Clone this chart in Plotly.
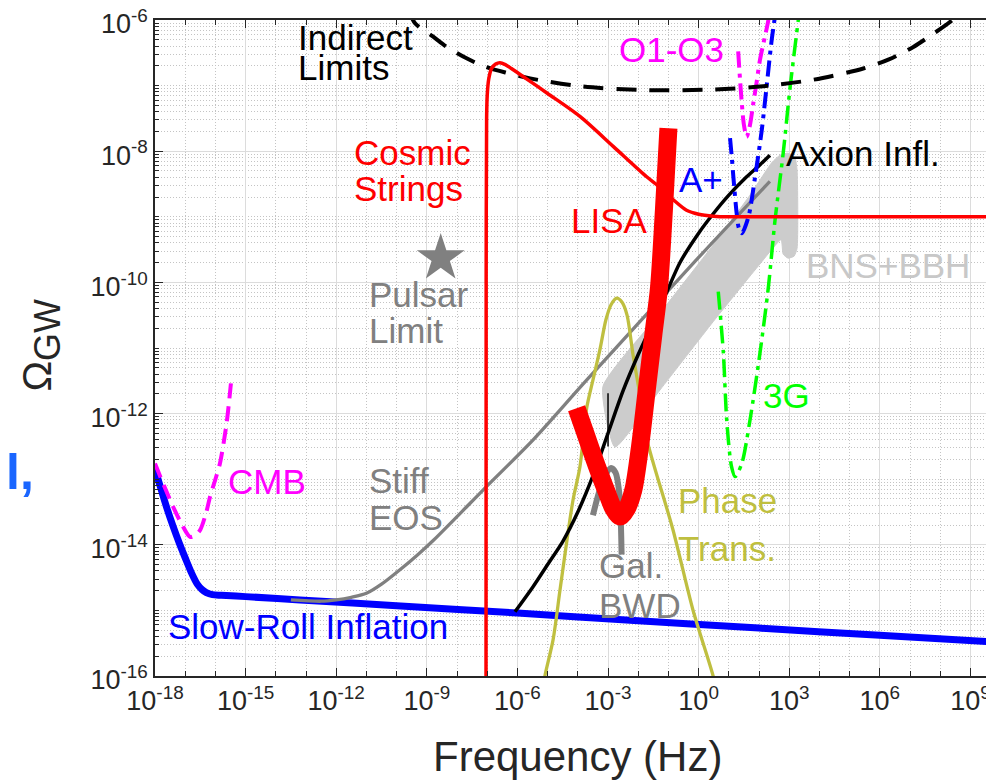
import numpy as np
import plotly.graph_objects as go

# ---- values (log10 of frequency in Hz, log10 of Omega_GW) ----
slow_roll_f = [-18.0, -17.8, -17.6, -17.4, -17.2, -17.0, -16.8, -16.6, -16.45, -16.3, -16.1, -15.8,
               -15.0, -13.2, -10.0, -6.0, -2.27, 2.0, 6.0, 9.8]
slow_roll_o = [-12.85, -13.15, -13.45, -13.72, -13.97, -14.2, -14.42, -14.6, -14.68, -14.73, -14.76, -14.77,
               -14.79, -14.84, -14.93, -15.04, -15.15, -15.27, -15.38, -15.48]

cmb_f = [-18.0, -17.7, -17.4, -17.1, -16.84, -16.65, -16.5, -16.3, -16.18, -16.0, -15.85, -15.63, -15.48]
cmb_o = [-12.76, -13.1, -13.42, -13.7, -13.88, -13.85, -13.77, -13.5, -13.27, -13.0, -12.76, -12.15, -11.51]

stiff_f = [-13.5, -12.5, -12.0, -11.5, -11.0, -10.5, -9.89, -9.3, -8.78, -7.68, -7.02, -5.48, -3.71, 0.0, 2.36]
stiff_o = [-14.84, -14.86, -14.84, -14.8, -14.74, -14.6, -14.38, -14.15, -13.93, -13.42, -13.11, -12.4,
           -11.49, -9.62, -8.46]

cosmic_f = [-7.04, -7.035, -7.02, -7.0, -6.95, -6.86, -6.72, -6.58, -6.4, -6.2, -5.91, -5.0, -3.93,
            -2.82, -1.72, -1.28, -0.84, -0.4, 0.0, 0.5, 1.0, 10.0]
cosmic_o = [-16.5, -10.0, -7.5, -7.15, -6.9, -6.74, -6.67, -6.65, -6.68, -6.74, -6.83, -7.12, -7.47,
            -7.93, -8.39, -8.55, -8.74, -8.9, -8.96, -8.99, -9.0, -9.0]

indirect_f = [-9.6, -9.39, -8.8, -8.34, -7.7, -7.13, -6.4, -5.58, -3.93, -1.72, 0.49, 2.14, 3.8, 5.45,
              6.3, 7.11, 7.8, 8.32, 8.5]
indirect_o = [-5.85, -6.05, -6.25, -6.41, -6.58, -6.7, -6.8, -6.89, -7.01, -7.07, -7.06, -7.01, -6.91,
              -6.74, -6.6, -6.41, -6.2, -6.03, -5.95]

o1o3_f = [1.31, 1.37, 1.43, 1.5, 1.59, 1.7, 1.81, 1.92, 2.03, 2.31, 2.35]
o1o3_o = [-6.48, -6.9, -7.27, -7.6, -7.78, -7.6, -7.27, -6.95, -6.61, -6.0, -5.85]

aplus_f = [1.04, 1.1, 1.15, 1.26, 1.33, 1.43, 1.65, 1.87, 2.09, 2.25, 2.42, 2.56]
aplus_o = [-7.8, -8.1, -8.39, -8.95, -9.17, -9.25, -9.0, -8.39, -7.68, -7.02, -6.3, -5.85]

g3_f = [0.65, 0.82, 0.93, 1.09, 1.21, 1.43, 1.7, 2.03, 2.31, 2.53, 2.8, 3.03, 3.3, 3.34]
g3_o = [-10.14, -11.08, -12.1, -12.81, -12.96, -12.76, -12.1, -11.08, -10.07, -9.05, -8.03, -7.02, -6.0, -5.85]

axion_f = [-6.08, -5.5, -5.0, -4.5, -4.0, -3.5, -3.0, -2.5, -2.0, -1.5, -1.06, -0.62, 0.0, 0.49, 1.0,
           1.59, 2.0, 2.36]
axion_o = [-15.02, -14.65, -14.3, -13.95, -13.5, -12.95, -12.3, -11.65, -11.1, -10.6, -10.15, -9.7,
           -9.25, -8.95, -8.67, -8.39, -8.22, -8.06]

lisa_f = [-4.04, -3.75, -3.48, -3.25, -3.04, -2.82, -2.6, -2.38, -2.16, -1.94, -1.72, -1.5, -1.31, -1.15, -1.0]
lisa_o = [-11.92, -12.3, -12.66, -12.95, -13.2, -13.45, -13.57, -13.45, -13.16, -12.5, -11.65, -10.8,
          -10.07, -8.9, -7.65]

phase_f = [-5.15, -5.09, -4.82, -4.59, -4.36, -4.16, -3.93, -3.7, -3.5, -3.27, -3.07, -2.9, -2.71,
           -2.54, -2.37, -2.17, -1.84, -1.71, -0.85, -0.19, 0.48, 0.58]
phase_o = [-16.21, -16.0, -15.45, -14.69, -13.93, -13.32, -12.81, -11.9, -11.49, -11.03, -10.57, -10.34,
           -10.24, -10.3, -10.5, -11.11, -11.99, -12.4, -13.77, -14.99, -16.0, -16.21]

gal_f = [-3.5, -3.3, -3.1, -2.9, -2.75, -2.63, -2.58, -2.55]
gal_o = [-13.55, -13.2, -12.95, -12.83, -12.9, -13.2, -13.6, -14.15]

gal_tick_f = [-3.0, -3.0]
gal_tick_o = [-11.69, -12.5]

bns_f = [-3.17, -1.28, 0.48, 1.70, 2.43, 2.70, 2.96, 3.19, 3.26, 3.26, 3.16, 2.96, 2.80, 2.73, 2.03,
         0.48, -1.28, -2.77, -3.17]
bns_o = [-11.59, -10.47, -9.43, -8.67, -8.17, -8.06, -8.03, -8.10, -8.29, -9.48, -9.60, -9.63, -9.57,
         -9.35, -9.72, -10.60, -11.64, -12.51, -11.59]

pulsar_f = [-8.54]
pulsar_o = [-9.63]

x_tick_exp = list(range(-18, 10, 3))
y_tick_exp = list(range(-16, -5, 2))


def v(a):
    return 10.0 ** np.array(a, dtype=float)


fig = go.Figure()


def line(fx, oy, color, width, dash="solid", shape="spline"):
    fig.add_trace(go.Scatter(x=v(fx), y=v(oy), mode="lines",
                             line=dict(color=color, width=width, dash=dash, shape=shape, smoothing=0.8),
                             showlegend=False, hoverinfo="skip"))


# BNS+BBH band
fig.add_trace(go.Scatter(x=v(bns_f), y=v(bns_o), mode="lines", fill="toself",
                         fillcolor="#cccccc", line=dict(color="#cccccc", width=1, shape="spline", smoothing=0.5),
                         showlegend=False, hoverinfo="skip"))
line(slow_roll_f, slow_roll_o, "#0000ff", 7)
line(cmb_f, cmb_o, "#ff00ff", 4, dash="15px,8px")
line(stiff_f, stiff_o, "#808080", 3.3)
line(gal_f, gal_o, "#808080", 6)
line(phase_f, phase_o, "#bfbf40", 3.3)
line(axion_f, axion_o, "#000000", 3.5)
line(gal_tick_f, gal_tick_o, "#000000", 1.5, shape="linear")
line(g3_f, g3_o, "#00ff00", 3.5, dash="18px,6px,4px,6px")
line(aplus_f, aplus_o, "#0000ff", 4, dash="16px,6px,4px,6px")
line(o1o3_f, o1o3_o, "#ff00ff", 4, dash="16px,6px,4px,6px")
line(indirect_f, indirect_o, "#000000", 4, dash="20px,13px")
line(lisa_f, lisa_o, "#ff0000", 18)
line(cosmic_f, cosmic_o, "#ff0000", 3.5)
fig.add_trace(go.Scatter(x=v(pulsar_f), y=v(pulsar_o), mode="markers",
                         marker=dict(symbol="star", size=36, color="#808080", line=dict(width=0)),
                         showlegend=False, hoverinfo="skip"))

FONT = "Liberation Sans, Arial, Helvetica, sans-serif"
labels = [
    ("Indirect", -13.30, -6.267, "#000000"),
    ("Limits", -13.30, -6.724, "#000000"),
    ("Cosmic", -11.46, -8.027, "#ff0000"),
    ("Strings", -11.46, -8.561, "#ff0000"),
    ("Pulsar", -10.94, -10.19, "#808080"),
    ("Limit", -10.94, -10.73, "#808080"),
    ("O1-O3", -2.66, -6.457, "#ff00ff"),
    ("Axion Infl.", 2.86, -8.038, "#000000"),
    ("A+", -0.67, -8.434, "#0000ff"),
    ("LISA", -4.26, -9.049, "#ff0000"),
    ("BNS+BBH", 3.52, -9.735, "#c8c8c8"),
    ("3G", 2.09, -11.73, "#00ff00"),
    ("CMB", -15.63, -13.04, "#ff00ff"),
    ("Stiff", -10.94, -13.02, "#808080"),
    ("EOS", -10.94, -13.58, "#808080"),
    ("Phase", -0.73, -13.33, "#bfbf40"),
    ("Trans.", -0.73, -14.05, "#bfbf40"),
    ("Gal.", -3.32, -14.32, "#808080"),
    ("BWD", -3.32, -14.92, "#808080"),
    ("Slow-Roll Inflation", -17.61, -15.25, "#0000ff"),
]
for txt, lx, ly, col in labels:
    fig.add_annotation(text=txt, x=lx, y=ly, xref="x", yref="y", xanchor="left", yanchor="middle",
                       showarrow=False, font=dict(family=FONT, size=35, color=col), borderpad=0)

# axis titles
fig.add_annotation(text="Frequency (Hz)", x=0.504, y=-0.1227, xref="paper", yref="paper",
                   xanchor="center", yanchor="middle", showarrow=False,
                   font=dict(family=FONT, size=42, color="#262626"))
fig.add_annotation(text="Ω<sub><span style='font-size:36px'>GW</span></sub>", x=-0.136, y=0.505,
                   xref="paper", yref="paper",
                   xanchor="center", yanchor="middle", showarrow=False, textangle=-90,
                   font=dict(family=FONT, size=41, color="#262626"))
# cropped fragment of neighbouring text at the left edge
fig.add_annotation(text="<b>l,</b>", x=-0.180, y=(676 - 471.5) / 656, xref="paper", yref="paper",
                   xanchor="left", yanchor="middle", showarrow=False,
                   font=dict(family=FONT, size=50, color="#1a66ff"))

x_minor = [10.0 ** e for e in range(-18, 10) if (e + 18) % 3 != 0]
y_minor = [k * 10.0 ** e for e in range(-16, -6) for k in range(1, 10) if not (k == 1 and e % 2 == 0)]

axis_common = dict(type="log", showline=True, linecolor="#262626", linewidth=1.5, mirror="ticks",
                   ticks="inside", ticklen=8, tickcolor="#262626", tickwidth=1.2, automargin=False,
                   ticklabeloverflow="allow",
                   showgrid=True, gridcolor="#dcdcdc", gridwidth=1, zeroline=False,
                   tickfont=dict(family=FONT, size=27, color="#262626"))

fig.update_xaxes(range=[-18, 9.78], tickmode="array", tickvals=[10.0 ** e for e in x_tick_exp],
                 ticktext=[f"10<sup>{e}</sup>" for e in x_tick_exp],
                 minor=dict(tickmode="array", tickvals=x_minor, ticks="inside", ticklen=5,
                            tickcolor="#262626", showgrid=True, gridcolor="#c4c4c4", griddash="1px,2px"),
                 **axis_common)
fig.update_yaxes(range=[-16, -6], tickmode="array", tickvals=[10.0 ** e for e in y_tick_exp],
                 ticktext=[f"10<sup>{e}</sup>" for e in y_tick_exp], ticklabelshift=4,
                 minor=dict(tickmode="array", tickvals=y_minor, ticks="inside", ticklen=4,
                            tickcolor="#262626", showgrid=True, gridcolor="#c4c4c4", griddash="1px,2px"),
                 **axis_common)

# the page body adds an 8 px offset, so the figure is 8 px smaller and margins compensate
fig.update_layout(width=986, height=772, margin=dict(l=147, r=0, t=12, b=104),
                  plot_bgcolor="white", paper_bgcolor="white", showlegend=False)

fig.write_html("out.html")
